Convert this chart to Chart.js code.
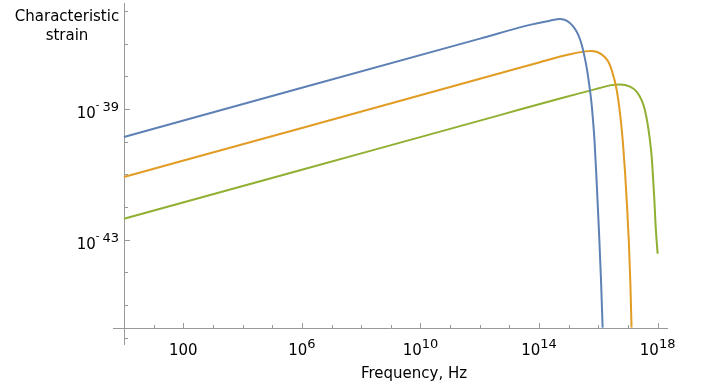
<!DOCTYPE html>
<html>
<head>
<meta charset="utf-8">
<script src="https://cdn.jsdelivr.net/npm/chart.js@4.4.0/dist/chart.umd.min.js"></script>
<style>
  body { margin: 0; background: #fff; }
  #wrap { width: 704px; height: 390px; }
</style>
</head>
<body>
<div id="wrap"><canvas id="chart" width="704" height="390"></canvas></div>
<script>
// values, stored as powers of ten (log10 f, log10 h)
const blueFreqExp   = [0, 5.94, 12.01, 13.69, 14.37, 14.71, 14.93, 15.15, 15.32, 15.44, 15.52, 15.61, 15.69, 15.77, 15.82, 15.87, 15.94, 16.02, 16.09, 16.145];
const blueStrainExp = [-39.86, -38.37, -36.85, -36.43, -36.30, -36.25, -36.30, -36.475, -36.73, -37.04, -37.34, -37.75, -38.24, -38.82, -39.34, -39.95, -41.17, -42.70, -44.22, -45.69];

const orangeFreqExp   = [0, 5.94, 12.68, 14.03, 15.04, 15.55, 15.77, 16.11, 16.33, 16.45, 16.62, 16.75, 16.83, 16.90, 16.975, 17.03, 17.08, 17.12];
const orangeStrainExp = [-41.08, -39.60, -37.91, -37.57, -37.33, -37.24, -37.23, -37.33, -37.54, -37.81, -38.42, -39.28, -40.04, -40.92, -42.08, -43.09, -44.31, -45.69];

const greenFreqExp   = [0, 5.94, 12.68, 14.71, 15.72, 16.05, 16.39, 16.73, 17.07, 17.29, 17.46, 17.57, 17.66, 17.74, 17.80, 17.83, 17.85, 17.89, 17.93, 18.0];
const greenStrainExp = [-42.36, -40.875, -39.19, -38.68, -38.44, -38.36, -38.28, -38.25, -38.32, -38.47, -38.73, -39.03, -39.44, -39.95, -40.46, -40.86, -41.17, -41.78, -42.54, -43.43];

// ticks and labels
const xMajorExp = [2, 6, 10, 14, 18];
const xTickLabels = ['100', '10^6', '10^10', '10^14', '10^18'];
const yMajorExp = [-39, -43];
const yTickLabels = ['10^-39', '10^-43'];
const xAxisTitle = 'Frequency, Hz';
const yAxisTitle = ['Characteristic', 'strain'];

// plot range (with padding) and where the axes cross
const xRangeExp = [-0.37, 18.35];
const yRangeExp = [-46.2, -35.76];
const xOriginExp = 0;
const yOriginExp = -45.69;

const FONT = '"DejaVu Sans", sans-serif';
const axisColor = '#999999';

function toPoints(fExp, hExp) {
    return fExp.map((e, i) => ({ x: Math.pow(10, e), y: Math.pow(10, hExp[i]) }));
}

// draws "10^6" style labels; align = 'center' or 'right'
function drawPow(ctx, text, px, baseY, align) {
    const parts = text.split('^');
    const base = parts[0];
    let exp = parts[1] || '';
    let minus = false;
    if (exp.startsWith('-')) { minus = true; exp = exp.slice(1); }

    ctx.font = '15px ' + FONT;
    const wb = ctx.measureText(base).width;
    ctx.font = '10px ' + FONT;
    const wm = minus ? ctx.measureText('-').width + 3 : 0;
    ctx.font = '13px ' + FONT;
    const we = exp ? ctx.measureText(exp).width : 0;

    const total = wb + wm + we;
    let left = align === 'right' ? px - total : px - total / 2;
    ctx.textAlign = 'left';
    ctx.textBaseline = 'alphabetic';

    ctx.font = '15px ' + FONT;
    ctx.fillText(base, left, baseY);
    left += wb;
    if (minus) {
        ctx.font = '10px ' + FONT;
        ctx.fillText('-', left, baseY - 10);
        left += wm;
    }
    if (exp) {
        ctx.font = '13px ' + FONT;
        ctx.fillText(exp, left, baseY - 7);
    }
}

const axesPlugin = {
    id: 'mmaAxes',
    beforeDatasetsDraw(chart) {
        const { ctx, chartArea, scales: { x, y } } = chart;
        const x0 = Math.round(x.getPixelForValue(Math.pow(10, xOriginExp))) + 0.5;
        const y0 = Math.round(y.getPixelForValue(Math.pow(10, yOriginExp))) + 0.5;

        ctx.save();
        ctx.strokeStyle = axisColor;
        ctx.lineWidth = 1;
        ctx.beginPath();
        ctx.moveTo(chartArea.left, y0);
        ctx.lineTo(chartArea.right, y0);
        ctx.moveTo(x0, chartArea.top);
        ctx.lineTo(x0, chartArea.bottom);

        // a tick on every decade, longer where there is a label
        for (let e = Math.ceil(xRangeExp[0]); e <= Math.floor(xRangeExp[1]); e++) {
            if (e === xOriginExp) continue;
            const px = Math.round(x.getPixelForValue(Math.pow(10, e))) + 0.5;
            const len = xMajorExp.includes(e) ? 5.5 : 3.5;
            ctx.moveTo(px, y0);
            ctx.lineTo(px, y0 - len);
        }
        for (let e = Math.ceil(yRangeExp[0]); e <= Math.floor(yRangeExp[1]); e++) {
            const py = Math.round(y.getPixelForValue(Math.pow(10, e))) + 0.5;
            const len = yMajorExp.includes(e) ? 5.5 : 3.5;
            ctx.moveTo(x0, py);
            ctx.lineTo(x0 + len, py);
        }
        ctx.stroke();
        ctx.restore();
    },
    afterDraw(chart) {
        const { ctx, scales: { x, y } } = chart;
        const x0 = x.getPixelForValue(Math.pow(10, xOriginExp));
        const y0 = y.getPixelForValue(Math.pow(10, yOriginExp));

        ctx.save();
        ctx.fillStyle = '#000';
        xMajorExp.forEach((e, i) => {
            const px = x.getPixelForValue(Math.pow(10, e));
            drawPow(ctx, xTickLabels[i], px, y0 + 27, 'center');
        });
        yMajorExp.forEach((e, i) => {
            const py = y.getPixelForValue(Math.pow(10, e));
            drawPow(ctx, yTickLabels[i], x0 - 5, py + 9, 'right');
        });

        ctx.font = '15px ' + FONT;
        ctx.textAlign = 'center';
        ctx.textBaseline = 'alphabetic';
        ctx.fillText(xAxisTitle, 414, 378);
        ctx.fillText(yAxisTitle[0], 67, 21);
        ctx.fillText(yAxisTitle[1], 67, 40);
        ctx.restore();
    }
};

const lineStyle = {
    borderWidth: 2,
    pointRadius: 0,
    fill: false,
    cubicInterpolationMode: 'monotone'
};

new Chart(document.getElementById('chart'), {
    type: 'line',
    data: {
        datasets: [
            { ...lineStyle, data: toPoints(blueFreqExp, blueStrainExp), borderColor: '#5E81B5' },
            { ...lineStyle, data: toPoints(orangeFreqExp, orangeStrainExp), borderColor: '#E19C24' },
            { ...lineStyle, data: toPoints(greenFreqExp, greenStrainExp), borderColor: '#8FB032' }
        ]
    },
    options: {
        responsive: false,
        animation: false,
        layout: { padding: { left: 113, right: 36, top: 3, bottom: 45 } },
        plugins: { legend: { display: false }, tooltip: { enabled: false } },
        scales: {
            x: {
                type: 'logarithmic',
                display: false,
                min: Math.pow(10, xRangeExp[0]),
                max: Math.pow(10, xRangeExp[1])
            },
            y: {
                type: 'logarithmic',
                display: false,
                min: Math.pow(10, yRangeExp[0]),
                max: Math.pow(10, yRangeExp[1])
            }
        }
    },
    plugins: [axesPlugin]
});
</script>
</body>
</html>
